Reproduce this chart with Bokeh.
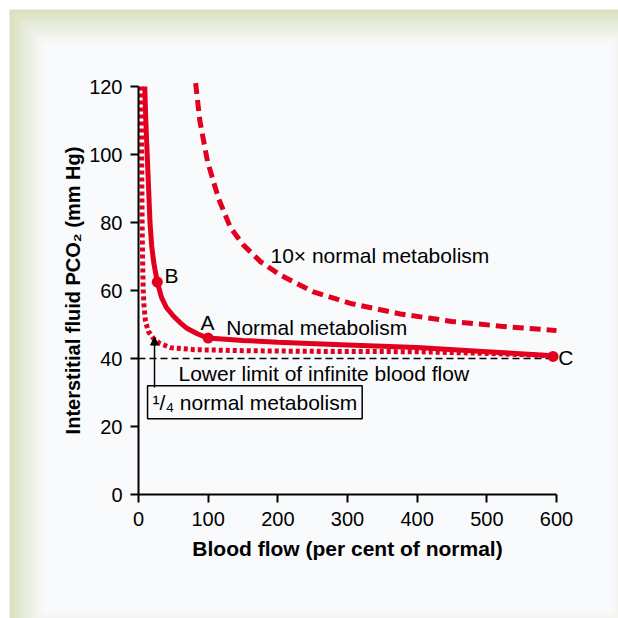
from bokeh.plotting import figure
from bokeh.models import (Range1d, FixedTicker, Label, Arrow, NormalHead, BoxAnnotation)
from bokeh.embed import file_html
from bokeh.resources import INLINE

# ---- data ----
flow_normal = [9, 10.5, 12.5, 14.5, 16.5, 19, 22, 27, 33, 40, 50, 60, 70, 85, 100, 150, 200, 300, 400, 500, 595]
pco2_normal = [120, 110, 100, 90, 80, 73, 68, 62.5, 58, 55, 52.5, 50.5, 48.8, 47.2, 46, 45.3, 44.8, 44.0, 43.2, 42.0, 40.8]

flow_quarter = [4, 4.5, 5.2, 5.8, 6.8, 8, 10, 14, 21, 30, 46, 80, 150, 250, 400, 500, 595]
pco2_quarter = [120, 100, 80, 70, 60, 55, 51, 48, 46, 44.5, 43.2, 42.6, 42.3, 42.1, 42.0, 41.5, 40.8]

flow_ten = [82, 88, 99, 115, 132, 150, 175, 204, 250, 304, 376, 450, 520, 600]
pco2_ten = [121, 110, 98, 87, 78.5, 73.5, 68.5, 64.5, 59.7, 56.2, 53.1, 50.9, 49.5, 48.2]

point_names = ["A", "B", "C"]
point_flow = [100, 27, 595]
point_pco2 = [46, 62.5, 40.6]

lower_limit_flow = [0, 600]
lower_limit_pco2 = [40, 40]

x_ticks = [0, 100, 200, 300, 400, 500, 600]
y_ticks = [0, 20, 40, 60, 80, 100, 120]

RED = "#e2001f"
FONT = "Liberation Sans"
PANEL = "#f9fafc"
OLIVE = (216, 224, 190)
PANEL_RGB = (249, 250, 252)

# frame of the plot covers the whole canvas; the axes sit at fixed locations
XS = 418.0 / 600.0   # px per unit
YS = 408.0 / 120.0
x0_px, y0_px = 138.0, 494.0
W = H = 618
p = figure(width=W, height=H, output_backend="svg", toolbar_location=None,
           x_range=Range1d(-x0_px / XS, (W - x0_px) / XS),
           y_range=Range1d(-(H - y0_px) / YS, y0_px / YS),
           min_border=0)

p.background_fill_color = "white"
p.border_fill_color = "white"
p.outline_line_color = None
p.grid.visible = False

# gradient frame
N = 35
for i in range(N):
    t = i / (N - 1)
    c = tuple(int(round(OLIVE[k] + (PANEL_RGB[k] - OLIVE[k]) * t)) for k in range(3))
    col = "#%02x%02x%02x" % c
    p.add_layout(BoxAnnotation(left=9 + i, right=645 - i, top=9 + i, bottom=645 - i,
                               left_units="canvas", right_units="canvas",
                               top_units="canvas", bottom_units="canvas",
                               fill_color=col, fill_alpha=1.0, line_color=None,
                               level="underlay", propagate_hover=False))

# lower limit dashed line
p.line(lower_limit_flow, lower_limit_pco2, line_color="black", line_width=1.5, line_dash="7 4")

# curves
p.line(flow_ten, pco2_ten, line_color=RED, line_width=5, line_dash="11 6")
p.line(flow_quarter, pco2_quarter, line_color=RED, line_width=5, line_dash="4 3")
p.line(flow_normal, pco2_normal, line_color=RED, line_width=5)
p.scatter(point_flow, point_pco2, size=11, fill_color=RED, line_color=None)

# axes
for ax in (p.xaxis[0], p.yaxis[0]):
    ax.fixed_location = 0
    ax.axis_line_width = 2
    ax.axis_line_color = "black"
    ax.major_tick_line_width = 2
    ax.major_tick_line_color = "black"
    ax.major_tick_out = 8
    ax.major_tick_in = 0
    ax.minor_tick_line_color = None
    ax.major_label_text_font = FONT
    ax.major_label_text_font_size = "20px"
    ax.major_label_text_color = "black"
    ax.axis_label_text_font = FONT
    ax.axis_label_text_font_style = "bold"
    ax.axis_label_text_color = "black"

p.xaxis.ticker = FixedTicker(ticks=x_ticks)
p.yaxis.ticker = FixedTicker(ticks=y_ticks)
p.xaxis.bounds = (0, 600)
p.yaxis.bounds = (0, 120)
p.xaxis.axis_label = "Blood flow (per cent of normal)"
p.yaxis.axis_label = "Interstitial fluid PCO\u2082 (mm Hg)"
p.xaxis.axis_label_text_font_size = "21px"
p.yaxis.axis_label_text_font_size = "20px"
p.xaxis.major_label_standoff = 9
p.yaxis.major_label_standoff = 8
p.xaxis.axis_label_standoff = 8
p.yaxis.axis_label_standoff = 2

def lab(x, y, text, align="left", **kw):
    l = Label(x=x, y=y, text=text, text_font=FONT, text_font_size="21px",
              text_color="black", text_align=align, text_baseline="middle", **kw)
    p.add_layout(l)
    return l

lab(189.4, 70.3, "10\u00d7 normal metabolism")
lab(99, 50.6, "A", align="center")
lab(126, 49.1, "Normal metabolism")
lab(37.3, 64.4, "B")
lab(602.6, 40.3, "C")
lab(57.4, 35.6, "Lower limit of infinite blood flow")
lab(13.0, 27.1, "\u00b9/\u2084 normal metabolism", border_line_color="black",
    border_line_width=1.5, background_fill_color=PANEL, padding=5)

p.add_layout(Arrow(end=NormalHead(size=8, fill_color="black", line_color="black"),
                   x_start=23, y_start=31.5, x_end=23, y_end=46.3,
                   line_color="black", line_width=1.5))

open("out.html", "w").write(file_html(p, INLINE))
